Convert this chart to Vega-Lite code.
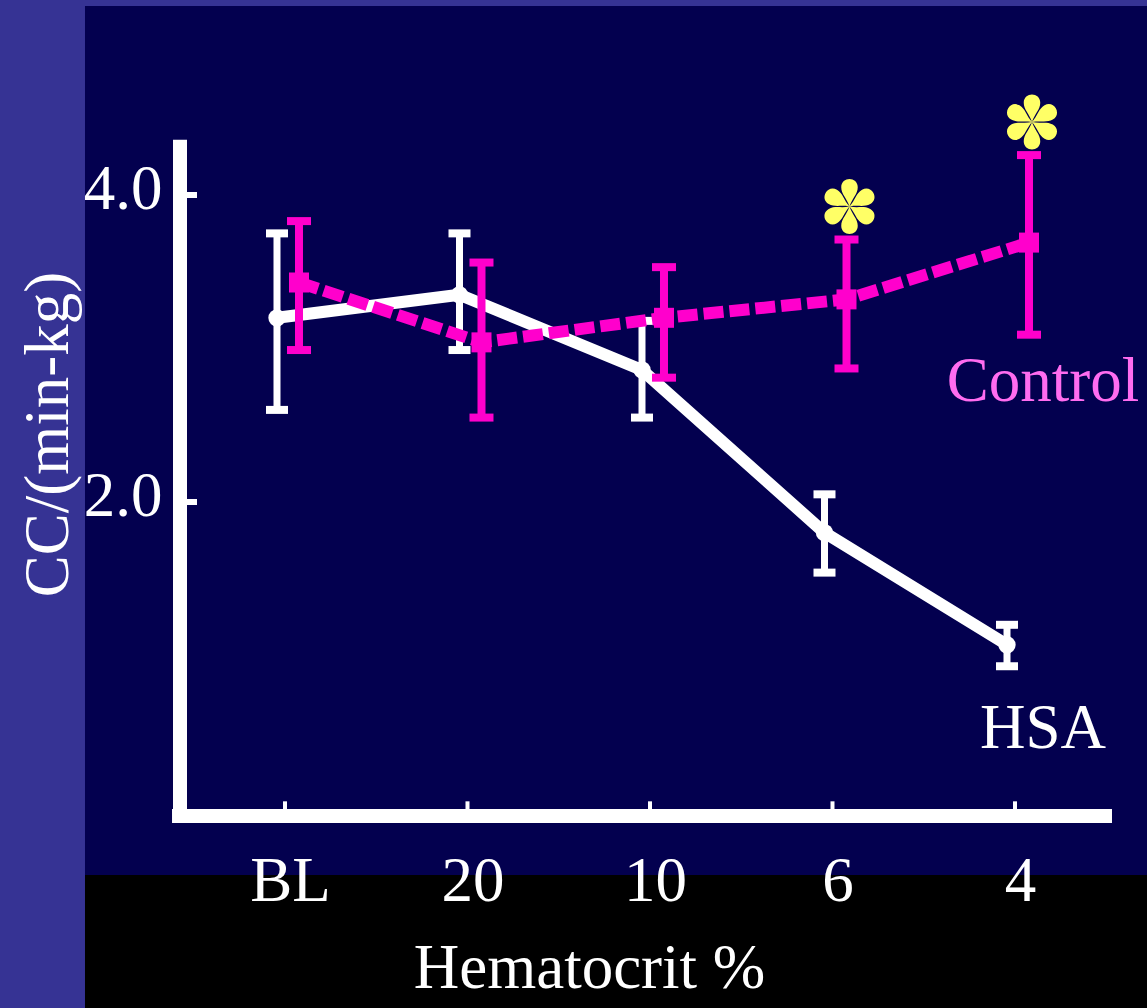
{
  "$schema": "https://vega.github.io/schema/vega-lite/v6.json",
  "width": 967,
  "height": 810,
  "autosize": {"type": "none"},
  "padding": {"left": 180, "top": 6, "right": 0, "bottom": 192},
  "background": "#363394",
  "view": {"stroke": null},
  "config": {"font": "Liberation Serif"},
  "datasets": {
    "cc": [
      {"hct": "BL", "k": 0, "series": "HSA", "mean": 3.20, "lo": 2.60, "hi": 3.75, "sig": false},
      {"hct": "20", "k": 1, "series": "HSA", "mean": 3.35, "lo": 2.99, "hi": 3.75, "sig": false},
      {"hct": "10", "k": 2, "series": "HSA", "mean": 2.86, "lo": 2.55, "hi": 3.18, "sig": false},
      {"hct": "6", "k": 3, "series": "HSA", "mean": 1.80, "lo": 1.54, "hi": 2.05, "sig": false},
      {"hct": "4", "k": 4, "series": "HSA", "mean": 1.07, "lo": 0.93, "hi": 1.20, "sig": false},
      {"hct": "BL", "k": 0, "series": "Control", "mean": 3.43, "lo": 2.99, "hi": 3.83, "sig": false},
      {"hct": "20", "k": 1, "series": "Control", "mean": 3.04, "lo": 2.55, "hi": 3.56, "sig": false},
      {"hct": "10", "k": 2, "series": "Control", "mean": 3.20, "lo": 2.81, "hi": 3.53, "sig": false},
      {"hct": "6", "k": 3, "series": "Control", "mean": 3.32, "lo": 2.87, "hi": 3.71, "sig": true},
      {"hct": "4", "k": 4, "series": "Control", "mean": 3.69, "lo": 3.09, "hi": 4.26, "sig": true}
    ],
    "panels": [
      {"part": "panel", "x": -1.0959, "x2": 4.8, "y": 5.2313, "y2": -0.43, "color": "#03004F"},
      {"part": "footer", "x": -1.0959, "x2": 4.8, "y": -0.43, "y2": -1.4, "color": "#000000"}
    ],
    "frame": [
      {"part": "yline", "x": -0.5753, "x2": -0.5753, "y": 4.36, "y2": -0.07, "w": 14},
      {"part": "xline", "x": -0.619, "x2": 4.5315, "y": -0.045, "y2": -0.045, "w": 14},
      {"part": "ytick", "x": -0.5753, "x2": -0.482, "y": 4, "y2": 4, "w": 6},
      {"part": "ytick", "x": -0.5753, "x2": -0.482, "y": 2, "y2": 2, "w": 6},
      {"part": "xtick", "x": 0, "x2": 0, "y": -0.045, "y2": 0.05, "w": 4},
      {"part": "xtick", "x": 1, "x2": 1, "y": -0.045, "y2": 0.05, "w": 4},
      {"part": "xtick", "x": 2, "x2": 2, "y": -0.045, "y2": 0.05, "w": 4},
      {"part": "xtick", "x": 3, "x2": 3, "y": -0.045, "y2": 0.05, "w": 4},
      {"part": "xtick", "x": 4, "x2": 4, "y": -0.045, "y2": 0.05, "w": 4}
    ],
    "labels": [
      {"k": 4, "text": "Control", "y": 2.78, "color": "#FF6CF0"},
      {"k": 4, "text": "HSA", "y": 0.52, "color": "#FFFFFF"}
    ]
  },
  "layer": [
    {
      "data": {"name": "panels"},
      "mark": {"type": "rect", "clip": false},
      "encoding": {
        "x": {
          "field": "x", "type": "quantitative",
          "scale": {"domain": [-0.5753, 4.7233], "nice": false, "zero": false},
          "axis": {
            "orient": "bottom", "zindex": 1,
            "values": [0, 1, 2, 3, 4], "labelExpr": "['BL', '20', '10', '6', '4'][datum.value]",
            "domain": false, "grid": false, "ticks": false, "tickSize": 0,
            "labelColor": "#FFFFFF", "labelFontSize": 63, "labelFont": "Liberation Serif",
            "labelPadding": 65, "labelBaseline": "middle", "labelOffset": 5,
            "labelAngle": 0, "labelFlush": false, "labelOverlap": false,
            "title": "Hematocrit %", "titleColor": "#FFFFFF", "titleFontSize": 63,
            "titleFont": "Liberation Serif", "titleFontWeight": "normal",
            "titleX": 409, "titleY": 152, "titleAlign": "center", "titleBaseline": "middle"
          }
        },
        "x2": {"field": "x2"},
        "y": {
          "field": "y", "type": "quantitative",
          "scale": {"domain": [-0.0456, 5.2313], "nice": false, "zero": false},
          "axis": {
            "orient": "left", "zindex": 1,
            "values": [2, 4], "format": ".1f",
            "domain": false, "grid": false, "ticks": false, "tickSize": 0,
            "labelColor": "#FFFFFF", "labelFontSize": 63, "labelFont": "Liberation Serif",
            "labelPadding": 18, "labelOffset": -6, "labelBaseline": "middle", "labelAlign": "right",
            "labelOverlap": false,
            "title": "CC/(min-kg)", "titleColor": "#FFFFFF", "titleFontSize": 63,
            "titleFont": "Liberation Serif", "titleFontWeight": "normal",
            "titleAngle": -90, "titleX": -132, "titleY": 428, "titleAlign": "center", "titleBaseline": "middle"
          }
        },
        "y2": {"field": "y2"},
        "color": {"field": "color", "type": "nominal", "scale": null}
      }
    },
    {
      "data": {"name": "frame"},
      "mark": {"type": "rule", "color": "#FFFFFF", "strokeCap": "butt", "clip": false},
      "encoding": {
        "x": {"field": "x", "type": "quantitative"},
        "x2": {"field": "x2"},
        "y": {"field": "y", "type": "quantitative"},
        "y2": {"field": "y2"},
        "strokeWidth": {"field": "w", "type": "quantitative", "scale": null}
      }
    },
    {
      "data": {"name": "cc"},
      "transform": [{"filter": "datum.series === 'HSA'"}],
      "mark": {"type": "line", "color": "#FFFFFF", "strokeWidth": 12, "strokeJoin": "round", "xOffset": -8},
      "encoding": {
        "x": {"field": "k", "type": "quantitative"},
        "y": {"field": "mean", "type": "quantitative"},
        "order": {"field": "k", "type": "quantitative"}
      }
    },
    {
      "data": {"name": "cc"},
      "transform": [{"filter": "datum.series === 'HSA'"}],
      "mark": {"type": "rule", "color": "#FFFFFF", "strokeWidth": 7, "xOffset": -8},
      "encoding": {
        "x": {"field": "k", "type": "quantitative"},
        "y": {"field": "lo", "type": "quantitative"},
        "y2": {"field": "hi"}
      }
    },
    {
      "data": {"name": "cc"},
      "transform": [{"filter": "datum.series === 'HSA'"}, {"fold": ["lo", "hi"], "as": ["end", "val"]}],
      "mark": {"type": "tick", "orient": "horizontal", "color": "#FFFFFF", "size": 22, "thickness": 8, "opacity": 1, "xOffset": -8},
      "encoding": {
        "x": {"field": "k", "type": "quantitative"},
        "y": {"field": "val", "type": "quantitative"}
      }
    },
    {
      "data": {"name": "cc"},
      "transform": [{"filter": "datum.series === 'HSA'"}],
      "mark": {"type": "circle", "color": "#FFFFFF", "size": 300, "opacity": 1, "xOffset": -8},
      "encoding": {
        "x": {"field": "k", "type": "quantitative"},
        "y": {"field": "mean", "type": "quantitative"}
      }
    },
    {
      "data": {"name": "cc"},
      "transform": [{"filter": "datum.series === 'Control'"}],
      "mark": {"type": "rule", "color": "#FF00CC", "strokeWidth": 8, "xOffset": 14},
      "encoding": {
        "x": {"field": "k", "type": "quantitative"},
        "y": {"field": "lo", "type": "quantitative"},
        "y2": {"field": "hi"}
      }
    },
    {
      "data": {"name": "cc"},
      "transform": [{"filter": "datum.series === 'Control'"}, {"fold": ["lo", "hi"], "as": ["end", "val"]}],
      "mark": {"type": "tick", "orient": "horizontal", "color": "#FF00CC", "size": 24, "thickness": 8, "opacity": 1, "xOffset": 14},
      "encoding": {
        "x": {"field": "k", "type": "quantitative"},
        "y": {"field": "val", "type": "quantitative"}
      }
    },
    {
      "data": {"name": "cc"},
      "transform": [{"filter": "datum.series === 'Control'"}],
      "mark": {"type": "line", "color": "#FF00CC", "strokeWidth": 12, "strokeDash": [20, 6], "xOffset": 14},
      "encoding": {
        "x": {"field": "k", "type": "quantitative"},
        "y": {"field": "mean", "type": "quantitative"},
        "order": {"field": "k", "type": "quantitative"}
      }
    },
    {
      "data": {"name": "cc"},
      "transform": [{"filter": "datum.series === 'Control'"}],
      "mark": {"type": "square", "color": "#FF00CC", "size": 400, "opacity": 1, "xOffset": 14},
      "encoding": {
        "x": {"field": "k", "type": "quantitative"},
        "y": {"field": "mean", "type": "quantitative"}
      }
    },
    {
      "data": {"name": "cc"},
      "transform": [{"filter": "datum.series === 'Control' && datum.sig"}],
      "mark": {
        "type": "point", "filled": true, "color": "#FFFF66", "opacity": 1, "size": 3025, "yOffset": -33, "xOffset": 17,
        "shape": "M0,0C-0.1,-0.3,-0.3,-0.45,-0.3,-0.7C-0.3,-0.9,-0.15,-1,0,-1C0.15,-1,0.3,-0.9,0.3,-0.7C0.3,-0.45,0.1,-0.3,0,0Z M0,0C0.21,-0.237,0.24,-0.485,0.456,-0.61C0.629,-0.71,0.791,-0.63,0.866,-0.5C0.941,-0.37,0.929,-0.19,0.756,-0.09C0.54,0.035,0.31,-0.063,0,0Z M0,0C0.31,0.063,0.54,-0.035,0.756,0.09C0.929,0.19,0.941,0.37,0.866,0.5C0.791,0.63,0.629,0.71,0.456,0.61C0.24,0.485,0.21,0.237,0,0Z M0,0C0.1,0.3,0.3,0.45,0.3,0.7C0.3,0.9,0.15,1,0,1C-0.15,1,-0.3,0.9,-0.3,0.7C-0.3,0.45,-0.1,0.3,0,0Z M0,0C-0.21,0.237,-0.24,0.485,-0.456,0.61C-0.629,0.71,-0.791,0.63,-0.866,0.5C-0.941,0.37,-0.929,0.19,-0.756,0.09C-0.54,-0.035,-0.31,0.063,0,0Z M0,0C-0.31,-0.063,-0.54,0.035,-0.756,-0.09C-0.929,-0.19,-0.941,-0.37,-0.866,-0.5C-0.791,-0.63,-0.629,-0.71,-0.456,-0.61C-0.24,-0.485,-0.21,-0.237,0,0Z"
      },
      "encoding": {
        "x": {"field": "k", "type": "quantitative"},
        "y": {"field": "hi", "type": "quantitative"}
      }
    },
    {
      "data": {"name": "labels"},
      "mark": {"type": "text", "fontSize": 63, "font": "Liberation Serif", "align": "center", "baseline": "middle", "dx": 28},
      "encoding": {
        "x": {"field": "k", "type": "quantitative"},
        "y": {"field": "y", "type": "quantitative"},
        "text": {"field": "text"},
        "color": {"field": "color", "type": "nominal", "scale": null}
      }
    }
  ]
}
